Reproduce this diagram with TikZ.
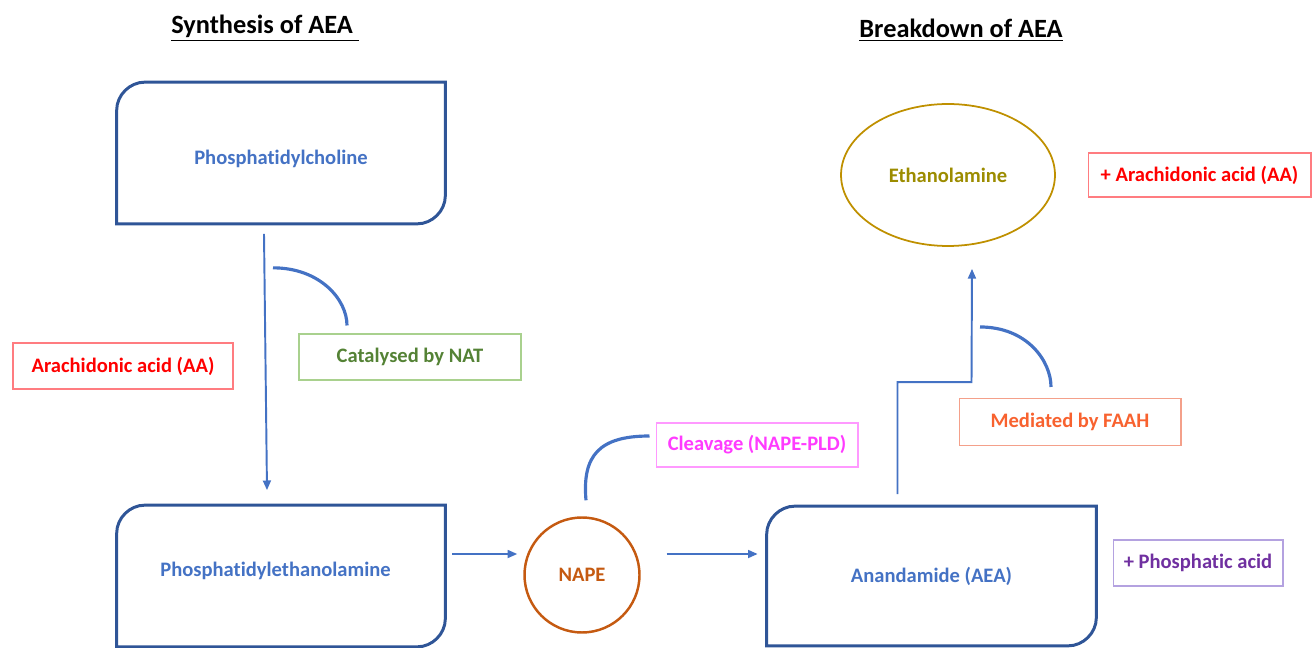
\documentclass[tikz,border=0pt]{standalone}
\usepackage{fontspec}
\setmainfont{Carlito}[Ligatures=NoCommon]
\usetikzlibrary{arrows.meta,calc,shapes.geometric}

\definecolor{boxblue}{HTML}{2F5597}
\definecolor{flowblue}{HTML}{4472C4}
\definecolor{napeorange}{HTML}{C55A11}
\definecolor{ethaborder}{HTML}{BF9000}
\definecolor{ethatext}{HTML}{9C8C00}
\definecolor{aared}{HTML}{FF0000}
\definecolor{aaborder}{HTML}{FF7C80}
\definecolor{natgreen}{HTML}{548235}
\definecolor{natborder}{HTML}{A9D18E}
\definecolor{pldpink}{HTML}{FF3BFF}
\definecolor{pldborder}{HTML}{FF99FF}
\definecolor{faahtext}{HTML}{F8622F}
\definecolor{faahborder}{HTML}{F4A08A}
\definecolor{papurple}{HTML}{7030A0}
\definecolor{paborder}{HTML}{B4A2E0}

\begin{document}
\begin{tikzpicture}[
        x=0.02cm, y=-0.02cm,
        font=\bfseries\fontsize{11.7}{13}\selectfont,
        pathbox/.style={minimum width=6.56cm, minimum height=2.82cm, inner sep=0pt, text=flowblue},
        tag/.style={draw, line width=0.6pt, inner sep=0pt, minimum height=0.92cm},
        flow/.style={-{Triangle[length=5.5pt,width=4.5pt]}, draw=flowblue, line width=1.1pt},
        enzyme/.style={draw=flowblue, line width=1.8pt},
        heading/.style={font=\bfseries\fontsize{15}{17}\selectfont}
        ]

        \useasboundingbox (0,0) rectangle (1315,648);

        % titles
        \node[heading] (syn) at (265,28) {\underline{Synthesis of AEA\ }};
        \node[heading] (brk) at (961,30) {\underline{Breakdown of AEA}};

        % nodes
        \node[pathbox] (pc)  at (281,153) {\raisebox{-0.12cm}[\height][\depth]{Phosphatidylcholine}};
        \node[pathbox] (pe)  at (281,576) {\hspace*{-0.22cm}\raisebox{0.1cm}[\height][\depth]{Phosphatidylethanolamine}};
        \node[pathbox, minimum width=6.58cm, minimum height=2.78cm] (aea) at (931.5,576) {Anandamide (AEA)};

        \node[circle, draw=napeorange, line width=1.4pt, minimum size=2.3cm, text=napeorange] (nape) at (582,575) {NAPE};
        \node[ellipse, draw=ethaborder, line width=1pt, minimum width=4.28cm, minimum height=2.84cm, inner sep=0pt, text=ethatext] (etha) at (948,175) {Ethanolamine};

        % labels
        \node[tag, draw=aaborder, text=aared, minimum width=4.4cm] (aa1) at (123,366) {Arachidonic acid (AA)};
        \node[tag, draw=natborder, text=natgreen, minimum width=4.44cm] (nat) at (410,357) {Catalysed by NAT};
        \node[tag, draw=pldborder, text=pldpink, minimum width=4.04cm, minimum height=0.88cm] (pld) at (757,445) {Cleavage (NAPE-PLD)};
        \node[tag, draw=faahborder, text=faahtext, minimum width=4.44cm, minimum height=0.94cm] (faah) at (1070,422) {Mediated by FAAH};
        \node[tag, draw=paborder, text=papurple, minimum width=3.4cm] (pa) at (1198,563) {+ Phosphatic acid};
        \node[tag, draw=aaborder, text=aared, minimum width=4.46cm, minimum height=0.88cm] (aa2) at (1199.5,175) {+ Arachidonic acid (AA)};

        % box outlines, two corners rounded
        \foreach \b in {pc,pe,aea}
            \draw[boxblue, line width=1.7pt]
                (\b.south west) -- ($(\b.north west)+(0,28)$)
                .. controls +(0,-15) and +(-15,0) .. ($(\b.north west)+(28,0)$)
                -- (\b.north east) -- ($(\b.south east)+(0,-28)$)
                .. controls +(0,15) and +(15,0) .. ($(\b.south east)+(-28,0)$)
                -- cycle;

        % edges
        \draw[flow] ($(pc.south)+(-17,10)$) -- ($(pe.north)+(-14,-15)$);
        \draw[flow] ($(pe.east)+(7,-22)$) -- ($(nape.west)+(-6,-21)$);
        \draw[flow] ($(nape.east)+(26,-21)$) -- ($(aea.west)+(-9,-22)$);
        \draw[flow] ($(aea.north)+(-34,-12)$) -- ++(0,-112) -- ++(74,0) -- ($(etha.south)+(24,22)$);

        % enzymes
        \draw[enzyme] ($(pc.south)+(-8,44)$) .. controls +(47,0) and +(0,-26) .. ($(nat.north)+(-63,-8)$);
        \draw[enzyme] ($(nape.north)+(4,-16)$) .. controls +(-4,-45) and +(-50,0) .. ($(pld.west)+(-6,-9)$);
        \draw[enzyme] ($(faah.north)+(-90,-71)$) .. controls +(47,0) and +(0,-26) .. ($(faah.north)+(-19,-11)$);

\end{tikzpicture}
\end{document}
